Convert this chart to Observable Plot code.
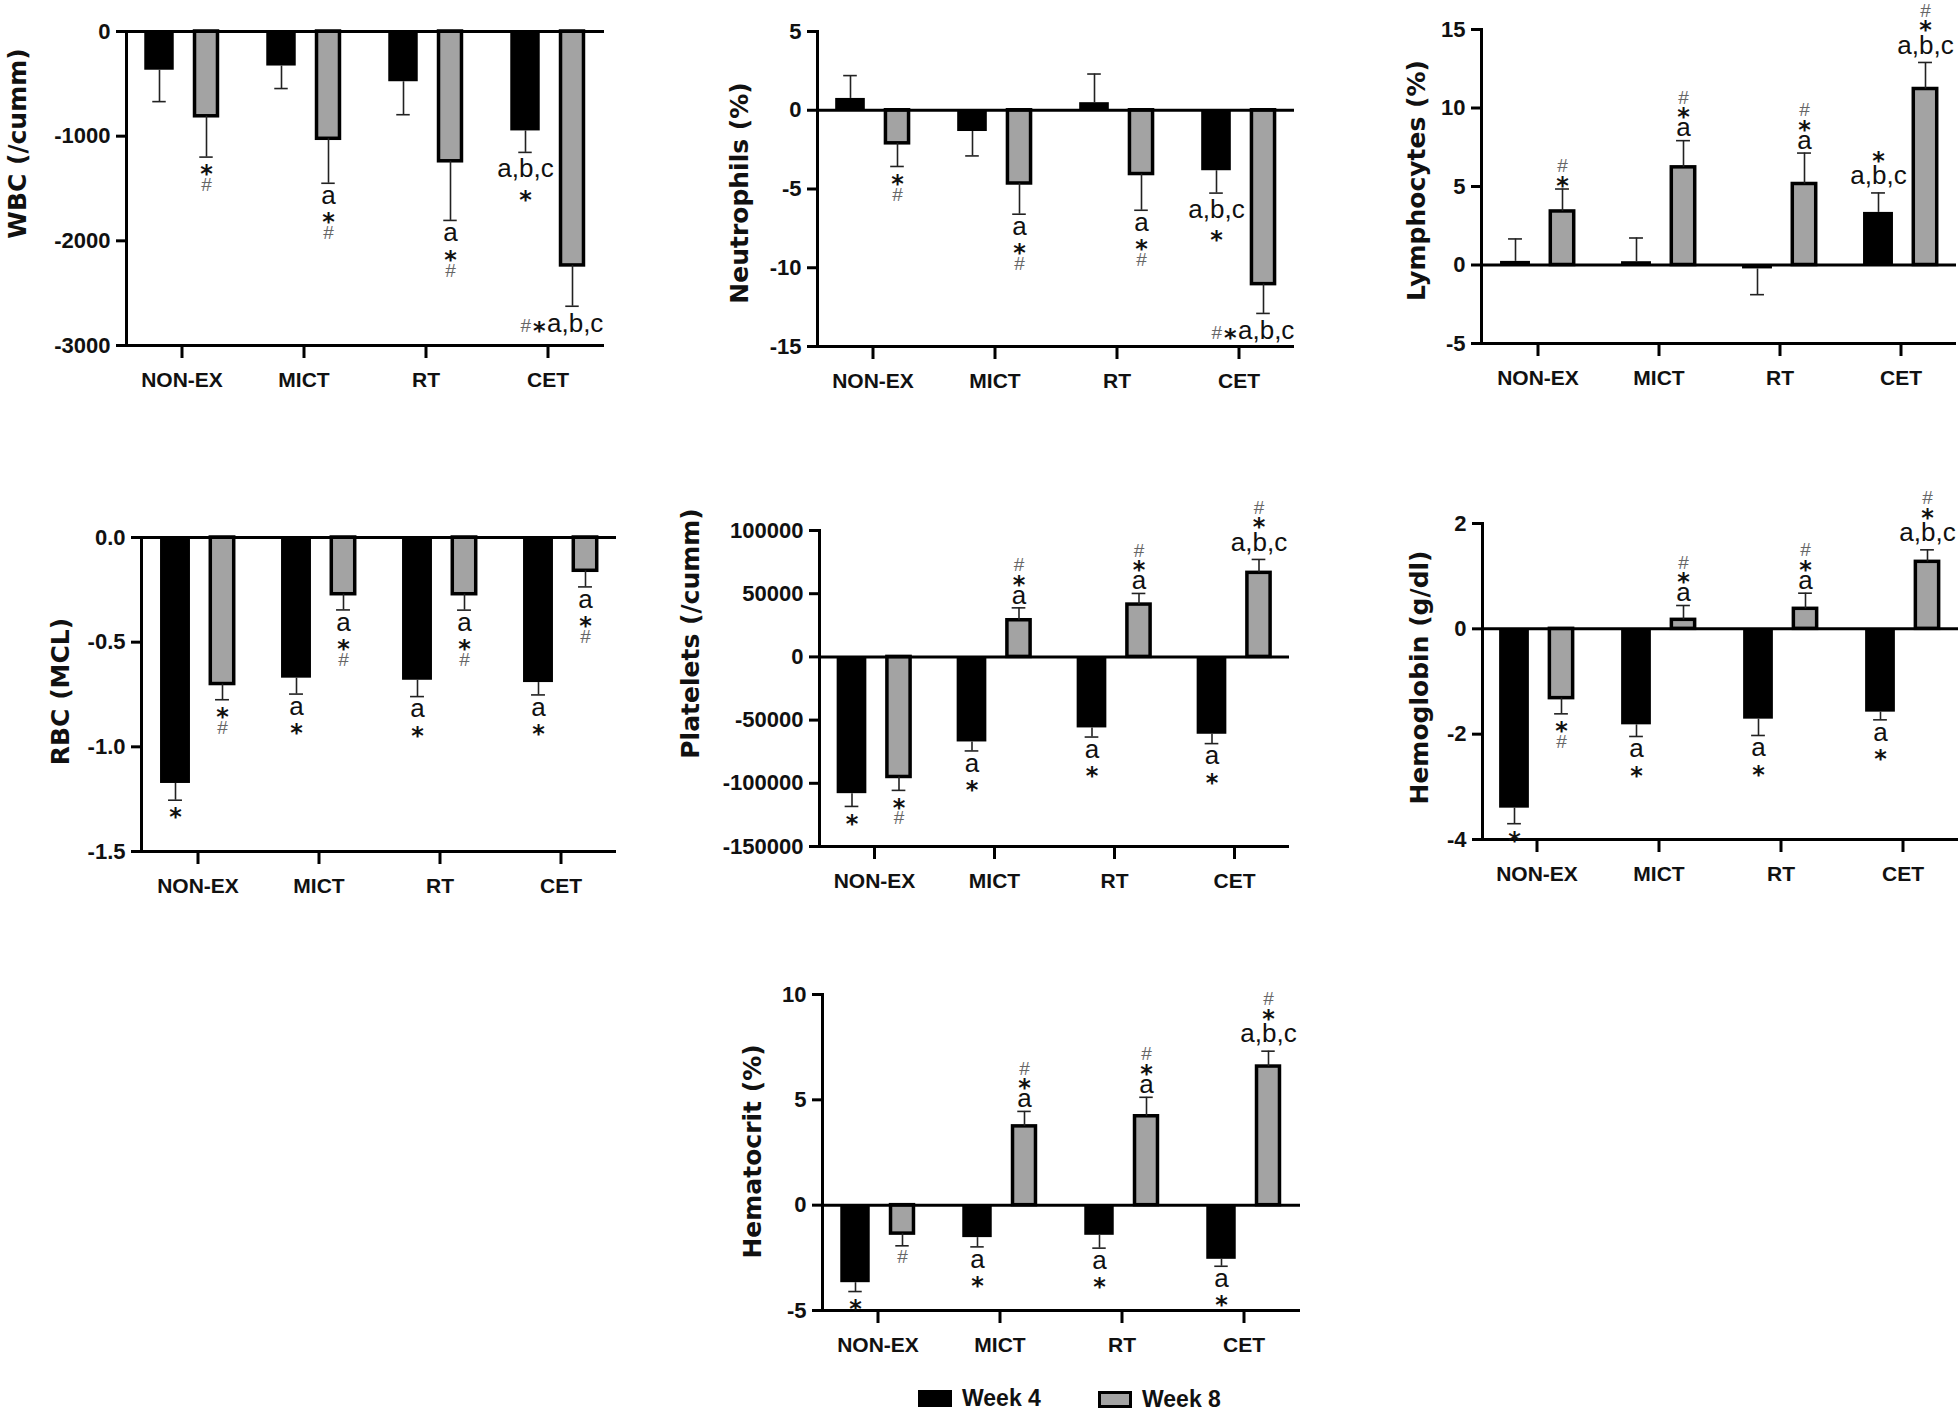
<!DOCTYPE html>
<html>
<head>
<meta charset="utf-8">
<script src="https://cdn.jsdelivr.net/npm/d3@7"></script>
<script src="https://cdn.jsdelivr.net/npm/@observablehq/plot@0.6"></script>
<style>
html, body { margin: 0; padding: 0; background: #fff; overflow: hidden; }
#fig { position: relative; width: 1960px; height: 1410px; overflow: hidden; background: #fff; }
.panel { position: absolute; }
g[aria-label="x-axis tick label"] { font-family: "Liberation Sans", Arial, sans-serif; font-weight: bold; font-size: 21px; }
g[aria-label="y-axis tick label"] { font-family: "Liberation Sans", Arial, sans-serif; font-weight: bold; font-size: 22px; }
.leg { position: absolute; display: flex; align-items: center; height: 30px; font-family: "Liberation Sans", Arial, sans-serif; font-weight: bold; font-size: 23px; color: #111; }
.sw { position: absolute; box-sizing: border-box; width: 34px; height: 17px; }
</style>
</head>
<body>
<div id="fig"></div>
<script>
// ---------- data ----------
const groups = ["NON-EX", "MICT", "RT", "CET"];
const weeks = ["Week 4", "Week 8"];

const wbcLabel = "WBC (/cumm)";
const wbcTicks = [-3000, -2000, -1000, 0];
const wbcWeek4 = [-370, -330, -480, -950];
const wbcWeek4Sem = [300, 215, 315, 205];
const wbcWeek8 = [-810, -1025, -1240, -2235];
const wbcWeek8Sem = [390, 425, 565, 390];
const wbcNotes4 = [[], [], [], ["a,b,c", "*"]];
const wbcNotes8 = [["*", "#"], ["a", "*", "#"], ["a", "*", "#"], ["#*a,b,c"]];

const neuLabel = "Neutrophils (%)";
const neuTicks = [-15, -10, -5, 0, 5];
const neuWeek4 = [0.75, -1.35, 0.48, -3.84];
const neuWeek4Sem = [1.45, 1.55, 1.82, 1.42];
const neuWeek8 = [-2.1, -4.65, -4.05, -11.04];
const neuWeek8Sem = [1.47, 1.95, 2.3, 1.86];
const neuNotes4 = [[], [], [], ["a,b,c", "*"]];
const neuNotes8 = [["*", "#"], ["a", "*", "#"], ["a", "*", "#"], ["#*a,b,c"]];

const lymLabel = "Lymphocytes (%)";
const lymTicks = [-5, 0, 5, 10, 15];
const lymWeek4 = [0.23, 0.21, -0.25, 3.35];
const lymWeek4Sem = [1.43, 1.51, 1.64, 1.24];
const lymWeek8 = [3.41, 6.22, 5.16, 11.21];
const lymWeek8Sem = [1.43, 1.7, 1.97, 1.69];
const lymNotes4 = [[], [], [], ["a,b,c", "*"]];
const lymNotes8 = [["*", "#"], ["a", "*", "#"], ["a", "*", "#"], ["a,b,c", "*", "#"]];

const rbcLabel = "RBC (MCL)";
const rbcTicks = [-1.5, -1.0, -0.5, 0.0];
const rbcWeek4 = [-1.175, -0.672, -0.682, -0.693];
const rbcWeek4Sem = [0.08, 0.076, 0.078, 0.059];
const rbcWeek8 = [-0.70, -0.271, -0.271, -0.159];
const rbcWeek8Sem = [0.075, 0.075, 0.076, 0.077];
const rbcNotes4 = [["*"], ["a", "*"], ["a", "*"], ["a", "*"]];
const rbcNotes8 = [["*", "#"], ["a", "*", "#"], ["a", "*", "#"], ["a", "*", "#"]];

const pltLabel = "Platelets (/cumm)";
const pltTicks = [-150000, -100000, -50000, 0, 50000, 100000];
const pltWeek4 = [-108200, -67300, -56200, -61200];
const pltWeek4Sem = [10100, 7100, 7200, 7400];
const pltWeek8 = [-95000, 29000, 41400, 66500];
const pltWeek8Sem = [10600, 9800, 8800, 10600];
const pltNotes4 = [["*"], ["a", "*"], ["a", "*"], ["a", "*"]];
const pltNotes8 = [["*", "#"], ["a", "*", "#"], ["a", "*", "#"], ["a,b,c", "*", "#"]];

const hgbLabel = "Hemoglobin (g/dl)";
const hgbTicks = [-4, -2, 0, 2];
const hgbWeek4 = [-3.405, -1.823, -1.715, -1.582];
const hgbWeek4Sem = [0.295, 0.221, 0.31, 0.146];
const hgbWeek8 = [-1.316, 0.171, 0.38, 1.272];
const hgbWeek8Sem = [0.298, 0.272, 0.297, 0.228];
const hgbNotes4 = [["*"], ["a", "*"], ["a", "*"], ["a", "*"]];
const hgbNotes8 = [["*", "#"], ["a", "*", "#"], ["a", "*", "#"], ["a,b,c", "*", "#"]];

const hctLabel = "Hematocrit (%)";
const hctTicks = [-5, 0, 5, 10];
const hctWeek4 = [-3.68, -1.54, -1.43, -2.57];
const hctWeek4Sem = [0.42, 0.44, 0.61, 0.33];
const hctWeek8 = [-1.35, 3.74, 4.22, 6.58];
const hctWeek8Sem = [0.58, 0.71, 0.9, 0.73];
const hctNotes4 = [["*"], ["a", "*"], ["a", "*"], ["a", "*"]];
const hctNotes8 = [["#"], ["a", "*", "#"], ["a", "*", "#"], ["a,b,c", "*", "#"]];

// ---------- layout (pixel frame of each panel) ----------
const intFmt = d => String(d);
const oneDec = d => d.toFixed(1);
const panels = [
  {label: wbcLabel, ticks: wbcTicks, fmt: intFmt, w4: wbcWeek4, s4: wbcWeek4Sem, w8: wbcWeek8, s8: wbcWeek8Sem, n4: wbcNotes4, n8: wbcNotes8,
   left: 126, right: 604, top: 31, bottom: 345, labelDx: -109, labelDy: -45},
  {label: neuLabel, ticks: neuTicks, fmt: intFmt, w4: neuWeek4, s4: neuWeek4Sem, w8: neuWeek8, s8: neuWeek8Sem, n4: neuNotes4, n8: neuNotes8,
   left: 817, right: 1294, top: 31, bottom: 346, labelDx: -78, labelDy: 4},
  {label: lymLabel, ticks: lymTicks, fmt: intFmt, w4: lymWeek4, s4: lymWeek4Sem, w8: lymWeek8, s8: lymWeek8Sem, n4: lymNotes4, n8: lymNotes8,
   left: 1481, right: 1956, top: 29, bottom: 343, labelDx: -65, labelDy: -6},
  {label: rbcLabel, ticks: rbcTicks, fmt: oneDec, w4: rbcWeek4, s4: rbcWeek4Sem, w8: rbcWeek8, s8: rbcWeek8Sem, n4: rbcNotes4, n8: rbcNotes8,
   left: 141, right: 616, top: 537, bottom: 851, labelDx: -81, labelDy: -3},
  {label: pltLabel, ticks: pltTicks, fmt: intFmt, w4: pltWeek4, s4: pltWeek4Sem, w8: pltWeek8, s8: pltWeek8Sem, n4: pltNotes4, n8: pltNotes8,
   left: 819, right: 1289, top: 530, bottom: 846, labelDx: -129, labelDy: -55},
  {label: hgbLabel, ticks: hgbTicks, fmt: intFmt, w4: hgbWeek4, s4: hgbWeek4Sem, w8: hgbWeek8, s8: hgbWeek8Sem, n4: hgbNotes4, n8: hgbNotes8,
   left: 1482, right: 1958, top: 523, bottom: 839, labelDx: -63, labelDy: -4},
  {label: hctLabel, ticks: hctTicks, fmt: intFmt, w4: hctWeek4, s4: hctWeek4Sem, w8: hctWeek8, s8: hctWeek8Sem, n4: hctNotes4, n8: hctNotes8,
   left: 822, right: 1300, top: 994, bottom: 1310, labelDx: -70, labelDy: -1}
];

const sans = '"Liberation Sans", Arial, Helvetica, sans-serif';
const wide = '"DejaVu Sans", Verdana, sans-serif';
const DX4 = -22.5, DX8 = 24.5;
const GRAY = "#a3a3a3";

const noteStyle = {
  "a":     {font: {fontFamily: sans, fontSize: 26, fill: "#111"}, comp: -1.5, up: 20, down: 22},
  "a,b,c": {font: {fontFamily: sans, fontSize: 26, fill: "#111"}, comp: -1.5, up: 29, down: 30},
  "*":     {font: {fontFamily: wide, fontWeight: "bold", fontSize: 24, fill: "#111"}, comp: 6, up: 16, down: 17},
  "#":     {font: {fontFamily: sans, fontSize: 19, fill: "#666"}, comp: 0.5, up: 13, down: 15}
};

function makeRows(values, sems, notes, week) {
  return groups.map((g, i) => ({
    group: g, week, value: values[i],
    end: values[i] + (values[i] < 0 ? -1 : 1) * sems[i],
    notes: notes[i]
  }));
}

function noteMarks(rows, barDx) {
  const out = [];
  for (const r of rows) {
    const down = r.value < 0;
    const dir = down ? 1 : -1;
    let cum = down ? 3 : 1;
    for (const label of r.notes) {
      if (label === "#*a,b,c") {
        const c = 19;
        out.push(Plot.text([r], {x: "group", y: "end", text: () => "#", textAnchor: "end", dx: -17, dy: c + noteStyle["#"].comp, ...noteStyle["#"].font}));
        out.push(Plot.text([r], {x: "group", y: "end", text: () => "*", textAnchor: "start", dx: -15, dy: c + noteStyle["*"].comp, ...noteStyle["*"].font}));
        out.push(Plot.text([r], {x: "group", y: "end", text: () => "a,b,c", textAnchor: "start", dx: -1, dy: c + noteStyle["a,b,c"].comp, ...noteStyle["a,b,c"].font}));
        continue;
      }
      const st = noteStyle[label];
      const h = down ? st.down : st.up;
      const c = cum + h / 2;
      cum += h;
      out.push(Plot.text([r], {x: "group", y: "end", text: () => label, dx: barDx, dy: dir * c + st.comp, ...st.font}));
    }
  }
  return out;
}

const fig = document.getElementById("fig");

function drawPanel(p) {
  const W = p.right - p.left, H = p.bottom - p.top;
  const ml = 150, mr = 32, mt = 30, mb = 50;
  const pi = 0.4, po = 0.15;
  const band = W / (4 - pi + 2 * po) * (1 - pi);
  const domain = [d3.min(p.ticks), d3.max(p.ticks)];
  const r4 = makeRows(p.w4, p.s4, p.n4, weeks[0]);
  const r8 = makeRows(p.w8, p.s8, p.n8, weeks[1]);
  const in4 = (band - 30) / 2, in8 = (band - 23.5) / 2, inCap = (band - 14) / 2;
  const marks = [
    Plot.barY(r4, {x: "group", y1: 0, y2: "value", fill: "#000", dx: DX4, insetLeft: in4, insetRight: in4}),
    Plot.barY(r8, {x: "group", y1: 0, y2: "value", fill: GRAY, stroke: "#000", strokeWidth: 3.5, dx: DX8, insetLeft: in8, insetRight: in8}),
    Plot.ruleX(r4, {x: "group", y1: "value", y2: "end", dx: DX4, stroke: "#222", strokeWidth: 1.6}),
    Plot.ruleX(r8, {x: "group", y1: "value", y2: "end", dx: DX8, stroke: "#222", strokeWidth: 1.6}),
    Plot.tickY(r4, {x: "group", y: "end", dx: DX4, insetLeft: inCap, insetRight: inCap, stroke: "#222", strokeWidth: 1.6}),
    Plot.tickY(r8, {x: "group", y: "end", dx: DX8, insetLeft: inCap, insetRight: inCap, stroke: "#222", strokeWidth: 1.6}),
    Plot.ruleY([0], {stroke: "#000", strokeWidth: 3}),
    Plot.ruleY([domain[0]], {stroke: "#000", strokeWidth: 3}),
    Plot.frame({anchor: "left", stroke: "#000", strokeWidth: 3}),
    Plot.axisY({ticks: p.ticks, tickFormat: p.fmt, tickSize: 10, tickPadding: 6, strokeWidth: 3, label: null,
                fontSize: 22, fontWeight: "bold", fontFamily: sans, fill: "#111"}),
    Plot.axisX({tickSize: 13, tickPadding: 14, strokeWidth: 3, label: null,
                fontSize: 21, fontWeight: "bold", fontFamily: sans, fill: "#111"}),
    ...noteMarks(r4, DX4),
    ...noteMarks(r8, DX8),
    Plot.text([p.label], {frameAnchor: "left", text: d => d, rotate: -90, textAnchor: "middle", lineAnchor: "middle",
                          dx: p.labelDx, dy: p.labelDy,
                          fontFamily: wide, fontWeight: "bold", fontSize: 25, fill: "#111"})
  ];
  const svg = Plot.plot({
    width: ml + W + mr, height: mt + H + mb,
    marginLeft: ml, marginRight: mr, marginTop: mt, marginBottom: mb,
    x: {domain: groups, paddingInner: pi, paddingOuter: po},
    y: {domain},
    style: "background: transparent; overflow: visible; max-width: none; color: #000;",
    marks
  });
  const div = document.createElement("div");
  div.className = "panel";
  div.style.left = (p.left - ml) + "px";
  div.style.top = (p.top - mt) + "px";
  div.appendChild(svg);
  fig.appendChild(div);
}

panels.forEach(drawPanel);

// ---------- legend ----------
function addLegend(x, y, label, swStyle) {
  const sw = document.createElement("div");
  sw.className = "sw";
  sw.style.left = x + "px";
  sw.style.top = (y - 8.5) + "px";
  Object.assign(sw.style, swStyle);
  fig.appendChild(sw);
  const t = document.createElement("div");
  t.className = "leg";
  t.style.left = (x + 44) + "px";
  t.style.top = (y - 15) + "px";
  t.textContent = label;
  fig.appendChild(t);
}
addLegend(918, 1398, weeks[0], {background: "#000"});
addLegend(1098, 1399, weeks[1], {background: GRAY, border: "3.5px solid #000"});
</script>
</body>
</html>
